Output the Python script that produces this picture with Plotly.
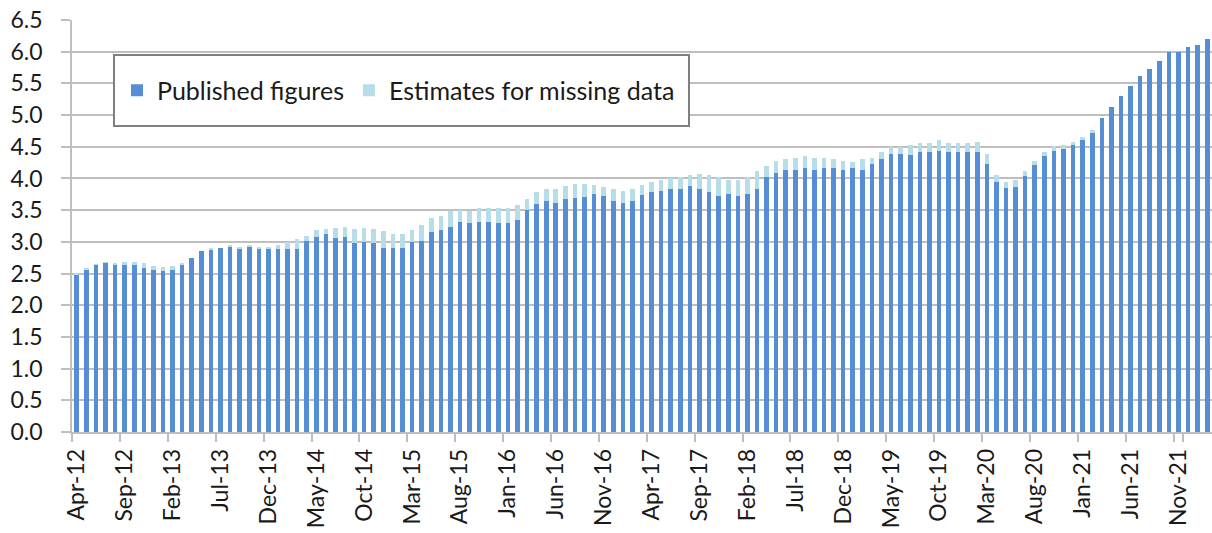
import plotly.graph_objects as go

months = ["Jan", "Feb", "Mar", "Apr", "May", "Jun", "Jul", "Aug", "Sep", "Oct", "Nov", "Dec"]
categories = (
    ["Apr-12", "May-12", "Jun-12", "Jul-12", "Aug-12", "Sep-12", "Oct-12", "Nov-12", "Dec-12"]
    + [m + "-13" for m in months] + [m + "-14" for m in months] + [m + "-15" for m in months]
    + [m + "-16" for m in months] + [m + "-17" for m in months] + [m + "-18" for m in months]
    + [m + "-19" for m in months] + [m + "-20" for m in months] + [m + "-21" for m in months]
    + ["Jan-22", "Feb-22"]
)

published = [
    2.48, 2.55, 2.64, 2.67, 2.64, 2.64, 2.64, 2.58, 2.56,             # Apr-12 .. Dec-12
    2.54, 2.56, 2.65, 2.74, 2.85, 2.88, 2.90, 2.93, 2.90, 2.92, 2.88, 2.88,  # 2013
    2.89, 2.89, 2.89, 3.01, 3.08, 3.12, 3.06, 3.08, 2.98, 3.00, 2.98, 2.91,  # 2014
    2.91, 2.91, 3.00, 3.01, 3.15, 3.19, 3.24, 3.31, 3.30, 3.31, 3.31, 3.29,  # 2015
    3.29, 3.34, 3.50, 3.60, 3.65, 3.62, 3.67, 3.69, 3.71, 3.76, 3.72, 3.65,  # 2016
    3.62, 3.65, 3.74, 3.78, 3.81, 3.83, 3.84, 3.88, 3.83, 3.79, 3.73, 3.76,  # 2017
    3.73, 3.76, 3.84, 4.02, 4.09, 4.13, 4.13, 4.16, 4.13, 4.17, 4.16, 4.14,  # 2018
    4.17, 4.14, 4.23, 4.30, 4.39, 4.39, 4.37, 4.41, 4.42, 4.44, 4.41, 4.41,  # 2019
    4.41, 4.42, 4.23, 3.95, 3.85, 3.86, 4.04, 4.21, 4.35, 4.44, 4.46, 4.53,  # 2020
    4.60, 4.71, 4.95, 5.12, 5.30, 5.46, 5.62, 5.73, 5.85, 5.99, 6.00, 6.07,  # 2021
    6.11, 6.20,                                                         # 2022
]

estimates = [
    0.02, 0.04, 0.01, 0.01, 0.03, 0.05, 0.05, 0.08, 0.06,
    0.07, 0.06, 0.01, 0.00, 0.00, 0.01, 0.00, 0.01, 0.02, 0.03, 0.04, 0.04,
    0.06, 0.10, 0.15, 0.08, 0.10, 0.08, 0.16, 0.16, 0.22, 0.22, 0.22, 0.26,
    0.22, 0.22, 0.18, 0.26, 0.23, 0.21, 0.25, 0.19, 0.19, 0.22, 0.22, 0.24,
    0.24, 0.24, 0.17, 0.18, 0.19, 0.22, 0.21, 0.23, 0.21, 0.14, 0.14, 0.18,
    0.18, 0.18, 0.16, 0.17, 0.16, 0.17, 0.18, 0.17, 0.24, 0.26, 0.29, 0.22,
    0.25, 0.26, 0.27, 0.17, 0.19, 0.17, 0.19, 0.19, 0.19, 0.16, 0.14, 0.14,
    0.09, 0.16, 0.10, 0.11, 0.10, 0.11, 0.16, 0.15, 0.14, 0.16, 0.15, 0.15,
    0.15, 0.16, 0.16, 0.10, 0.10, 0.11, 0.08, 0.07, 0.07, 0.07, 0.07, 0.05,
    0.06, 0.05, 0.00, 0.00, 0.00, 0.00, 0.00, 0.00, 0.00, 0.00, 0.00, 0.00,
    0.00, 0.00,
]

tick_labels = categories[::5]
y_ticks = [0.0, 0.5, 1.0, 1.5, 2.0, 2.5, 3.0, 3.5, 4.0, 4.5, 5.0, 5.5, 6.0, 6.5]

BLUE = "#558ED5"
LIGHT = "#B7DEE8"
GRID = "#BFBFBF"
TEXT = "#1a1a1a"
FONT = "Lato, 'Open Sans', sans-serif"

fig = go.Figure()
fig.add_trace(go.Bar(x=categories, y=published, name="Published figures",
                     marker=dict(color=BLUE, line=dict(width=0))))
fig.add_trace(go.Bar(x=categories, y=estimates, name="Estimates for missing data",
                     marker=dict(color=LIGHT, line=dict(width=0))))

W, H = 1212, 533
L, R, T, B = 72, 0, 20, 101
pw, ph = W - L - R, H - T - B

def px_x(x):
    return (x - L) / pw

def px_y(y):
    return (H - B - y) / ph

fig.add_shape(type="rect", xref="paper", yref="paper",
              x0=px_x(114), x1=px_x(689), y0=px_y(126), y1=px_y(55),
              line=dict(color="#7F7F7F", width=2), fillcolor="white", layer="above")

fig.update_layout(
    width=W, height=H,
    margin=dict(l=L, r=R, t=T, b=B, pad=0, autoexpand=False),
    barmode="stack", bargap=0.52,
    plot_bgcolor="white", paper_bgcolor="white",
    font=dict(family=FONT, size=23, color=TEXT),
    showlegend=True,
    legend=dict(orientation="h", x=px_x(117), y=px_y(90.5), xanchor="left", yanchor="middle",
                bgcolor="rgba(0,0,0,0)", borderwidth=0, font=dict(size=25, color=TEXT),
                traceorder="normal", itemclick=False),
    xaxis=dict(type="category", tickmode="array", tickvals=tick_labels, ticktext=tick_labels,
               tickangle=-90, tickson="boundaries", ticks="outside", ticklen=8,
               tickcolor=GRID, tickwidth=1.5, showgrid=False, showline=True,
               linecolor=GRID, linewidth=1.5, ticklabelstandoff=6, automargin=False,
               tickfont=dict(size=23, color=TEXT)),
    yaxis=dict(range=[0, 6.5], tickmode="array", tickvals=y_ticks,
               ticktext=[f"{v:.1f}" for v in y_ticks], ticks="outside", ticklen=9,
               tickcolor=GRID, tickwidth=1.5, showgrid=True, gridcolor=GRID, gridwidth=1.5,
               showline=True, linecolor=GRID, linewidth=1.5, zeroline=False, automargin=False,
               ticklabelstandoff=14, tickfont=dict(size=23, color=TEXT)),
)

fig.write_html("out.html", config={"displayModeBar": False},
               post_script="document.body.style.margin='0';")
